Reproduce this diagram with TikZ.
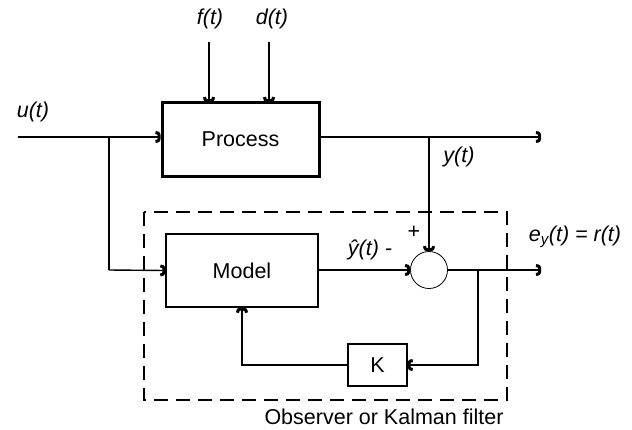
\documentclass[tikz,border=0pt]{standalone}
\usepackage{fontspec}
\setmainfont{Liberation Sans}
\usetikzlibrary{arrows.meta}
\pgfdeclarearrow{
  name = CupTip,
  setup code = {
    \pgfarrowssettipend{0pt}
    \pgfarrowssetlineend{-1.5pt}
    \pgfarrowssetvisualbackend{-5pt}
    \pgfarrowssetbackend{-5pt}
    \pgfarrowsupperhullpoint{0pt}{6pt}
    \pgfarrowsupperhullpoint{-5pt}{6pt}
  },
  drawing code = {
    \pgfsetlinewidth{3pt}
    \pgfsetbuttcap
    \pgfsetroundjoin
    \pgfpathmoveto{\pgfpoint{-5pt}{4.5pt}}
    \pgfpathcurveto{\pgfpoint{-2.5pt}{4.5pt}}{\pgfpoint{-1.5pt}{3.6pt}}{\pgfpoint{-1.5pt}{2.2pt}}
    \pgfpathlineto{\pgfpoint{-1.5pt}{-2.2pt}}
    \pgfpathcurveto{\pgfpoint{-1.5pt}{-3.6pt}}{\pgfpoint{-2.5pt}{-4.5pt}}{\pgfpoint{-5pt}{-4.5pt}}
    \pgfusepathqstroke
  }
}
\tikzset{
  every node/.style={font=\fontsize{21.5}{26}\selectfont, inner sep=0pt},
  sig/.style={line width=1.4pt, -{CupTip}},
  wire/.style={line width=1.4pt},
  lbl/.style={font=\fontsize{21.5}{26}\selectfont\itshape},
}
\begin{document}
\begin{tikzpicture}[x=1pt,y=-1pt]
\useasboundingbox (0,0) rectangle (632,429);
% blocks
\node[draw, line width=3pt, minimum width=157pt, minimum height=74pt] (proc) at (240.5,139) {Process};
\node[draw, line width=1.4pt, minimum width=152pt, minimum height=73pt] (model) at (242,270.5) {Model};
\node[draw, line width=1.4pt, minimum width=59pt, minimum height=42pt] (K) at (377.5,365) {K};
\node[draw, line width=0.8pt, circle, minimum size=37pt] (sum) at (429,270) {};
% coordinates
\coordinate (uin) at (18,137);
\coordinate (ub) at (109,137);
\coordinate (ubd) at (109,270);
\coordinate (fin) at (209,42);
\coordinate (din) at (269,42);
\coordinate (fend) at (209,102);
\coordinate (dend) at (269,102);
\coordinate (yb) at (429,137);
\coordinate (yout) at (541,137);
\coordinate (eout) at (541,270);
\coordinate (eb) at (478,270);
\coordinate (ebd) at (478,365);
\coordinate (kb) at (242,365);
% connectors
\draw[sig] (uin) -- (uin -| proc.west);
\draw[wire] (ub) -- (ubd);
\draw[sig] (ubd) -- (model.west);
\draw[sig] (fin) -- (fend);
\draw[sig] (din) -- (dend);
\draw[sig] (proc.east |- yout) -- (yout);
\draw[sig] (yb) -- (sum.north);
\draw[sig] (model.east |- sum) -- (sum.west);
\draw[sig] (sum.east) -- (eout);
\draw[sig] (eb) -- (ebd) -- (K.east);
\draw[sig] (K.west) -- (kb) -- (model.south);
% observer box
\draw[line width=1.4pt, dash pattern=on 14pt off 8pt] (144,212) rectangle (507,400);
% labels
\node[lbl] (ul) at (33,112) {u(t)};
\node[lbl] (fl) at (210,19) {f(t)};
\node[lbl] (dl) at (272,19) {d(t)};
\node[lbl] (yl) at (459,157) {y(t)};
\node[lbl] (yhl) at (370,250) {ŷ(t) -};
\node (pl) at (414,232) {+};
\node[lbl] (el) at (575,237) {e\textsubscript{y}(t) = r(t)};
\node (ol) at (384,417) {Observer or Kalman filter};
\end{tikzpicture}
\end{document}
